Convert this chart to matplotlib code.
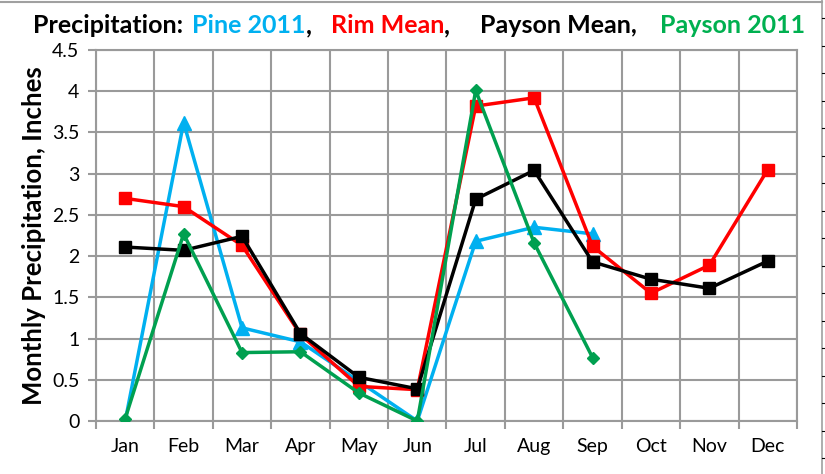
import matplotlib
matplotlib.use("Agg")
import matplotlib.pyplot as plt
from matplotlib.lines import Line2D
import numpy as np

months = ["Jan", "Feb", "Mar", "Apr", "May", "Jun", "Jul", "Aug", "Sep", "Oct", "Nov", "Dec"]
pine_2011 = [0.0, 3.62, 1.13, 0.96, 0.48, 0.0, 2.18, 2.35, 2.27, None, None, None]
rim_mean = [2.70, 2.60, 2.13, 1.05, 0.42, 0.38, 3.82, 3.92, 2.12, 1.55, 1.89, 3.05]
payson_mean = [2.11, 2.07, 2.24, 1.06, 0.53, 0.39, 2.69, 3.04, 1.93, 1.72, 1.61, 1.94]
payson_2011 = [0.03, 2.27, 0.83, 0.84, 0.34, 0.0, 4.01, 2.16, 0.77, None, None, None]

# title pieces with their left edge in pixels
title_parts = [
    ("Precipitation:", "black", 33),
    ("Pine 2011", "#00B0F0", 192),
    (",", "black", 306),
    ("Rim Mean", "#FF0000", 331),
    (",", "black", 444),
    ("Payson Mean,", "black", 480),
    ("Payson 2011", "#00B050", 660),
]

plt.rcParams["font.family"] = ["Lato", "DejaVu Sans"]

W, H = 825, 474
fig = plt.figure(figsize=(W / 100, H / 100), dpi=100)
ax = fig.add_axes([96 / W, 1 - 421 / H, (797 - 96) / W, (421 - 50) / H])

x = np.arange(len(months))


def to_arr(vals):
    return np.array([np.nan if v is None else v for v in vals], dtype=float)


ax.plot(x, to_arr(pine_2011), color="#00B0F0", lw=2.5, marker="^", ms=10, zorder=3)
ax.plot(x, to_arr(rim_mean), color="#FF0000", lw=2.5, marker="s", ms=8, zorder=4)
ax.plot(x, to_arr(payson_mean), color="black", lw=2.5, marker="s", ms=8, zorder=5)
ax.plot(x, to_arr(payson_2011), color="#00A050", lw=2.5, marker="D", ms=6.5, zorder=6)

ax.set_xlim(-0.5, 11.5)
ax.set_ylim(0, 4.5)
ax.set_yticks(np.arange(0, 4.51, 0.5))
ax.set_yticklabels(["0", "0.5", "1", "1.5", "2", "2.5", "3", "3.5", "4", "4.5"])
ax.set_xticks(x)
ax.set_xticklabels(months)
ax.set_xticks(np.arange(-0.5, 11.6, 1), minor=True)

ax.grid(which="major", axis="y", color="#9A9A9A", lw=1.5)
ax.grid(which="minor", axis="x", color="#9A9A9A", lw=1.5)
ax.set_axisbelow(True)

ax.tick_params(axis="x", which="major", length=0, pad=12, labelsize=14)
ax.tick_params(axis="x", which="minor", length=6, width=1.5, color="#9A9A9A")
ax.tick_params(axis="y", length=6, width=1.5, color="#9A9A9A", labelsize=14, pad=6)

for spine in ax.spines.values():
    spine.set_edgecolor("#9A9A9A")
    spine.set_linewidth(1.5)

ax.set_ylabel("Monthly Precipitation, Inches", fontsize=18.5, fontweight="bold", labelpad=4)

for text, color, px in title_parts:
    fig.text(px / W, 1 - 33 / H, text, color=color, fontsize=18, fontweight="bold",
             va="baseline", ha="left")

# sheet edge remnants on the right and top
fig.add_artist(Line2D([822 / W, 822 / W], [0, 1], color="#A0A0A0", lw=1.2))
for yy in np.arange(18, H, 27.5):
    fig.add_artist(Line2D([822 / W, 825 / W], [1 - yy / H, 1 - yy / H], color="black", lw=0.8))
fig.add_artist(Line2D([0, 822 / W], [1 - 2 / H, 1 - 2 / H], color="#A0A0A0", lw=1.5))

fig.savefig("out.png", dpi=100)
